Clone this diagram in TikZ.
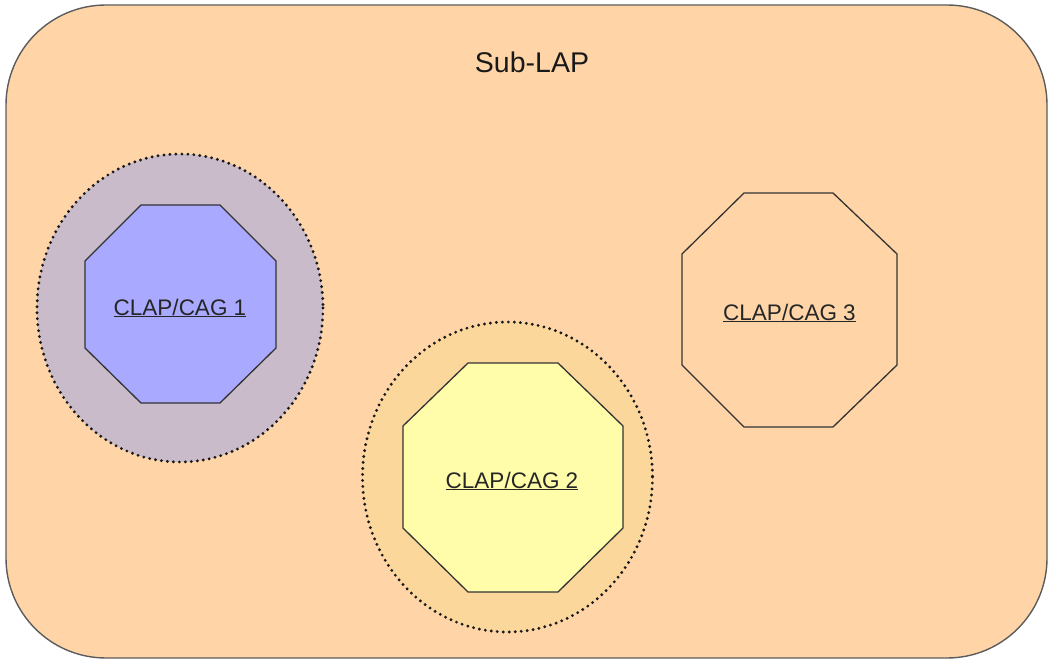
\documentclass[tikz,border=0pt]{standalone}
\usepackage{fontspec}
\setmainfont{Liberation Sans}
\definecolor{peach}{HTML}{FFD5A8}
\definecolor{mauve}{HTML}{C9BBC9}
\definecolor{lav}{HTML}{A9A9FF}
\definecolor{gold}{HTML}{FBD79B}
\definecolor{lemon}{HTML}{FFFDAA}
\definecolor{edge}{HTML}{333333}
\tikzset{
  frame/.style={draw=edge!80, line width=1.4pt, fill=peach, rounded corners=100pt},
  halo/.style={draw=black!90, line width=3.2pt, line cap=round, dash pattern=on 0pt off 6pt},
  octo/.style={draw=edge, line width=1.3pt},
  lbl/.style={anchor=base, inner sep=0pt, font=\fontsize{22.5}{26}\selectfont, text=black!85},
}
\begin{document}
\begin{tikzpicture}[x=1pt,y=-1pt]
\useasboundingbox (0,0) rectangle (1049,660);
% outer Sub-LAP frame
\draw[frame] (6,5) rectangle (1047,658);
\node[anchor=base, inner sep=0pt, font=\fontsize{28.5}{32}\selectfont, text=black!90] (sublap) at (532,73) {Sub-LAP};
% group 1
\fill[mauve] (180,308) ellipse [x radius=143, y radius=154];
\draw[halo] (180,308) ellipse [x radius=143, y radius=154];
\draw[octo, fill=lav] (141,205) -- (220,205) -- (276,261) -- (276,348) -- (220,403) -- (141,403) -- (85,348) -- (85,261) -- cycle;
\node[lbl] (c1) at (180,315) {\underline{CLAP/CAG 1}};
% group 2
\fill[gold] (507.5,477) ellipse [x radius=145, y radius=155];
\draw[halo] (507.5,477) ellipse [x radius=145, y radius=155];
\draw[octo, fill=lemon] (468,363) -- (558,363) -- (623,426) -- (623,528) -- (558,592) -- (468,592) -- (403,528) -- (403,426) -- cycle;
\node[lbl] (c2) at (512,488) {\underline{CLAP/CAG 2}};
% group 3
\draw[octo] (744,193) -- (833,193) -- (897,254) -- (897,365) -- (833,427) -- (744,427) -- (682,365) -- (682,254) -- cycle;
\node[lbl] (c3) at (789.5,320) {\underline{CLAP/CAG 3}};
\end{tikzpicture}
\end{document}
